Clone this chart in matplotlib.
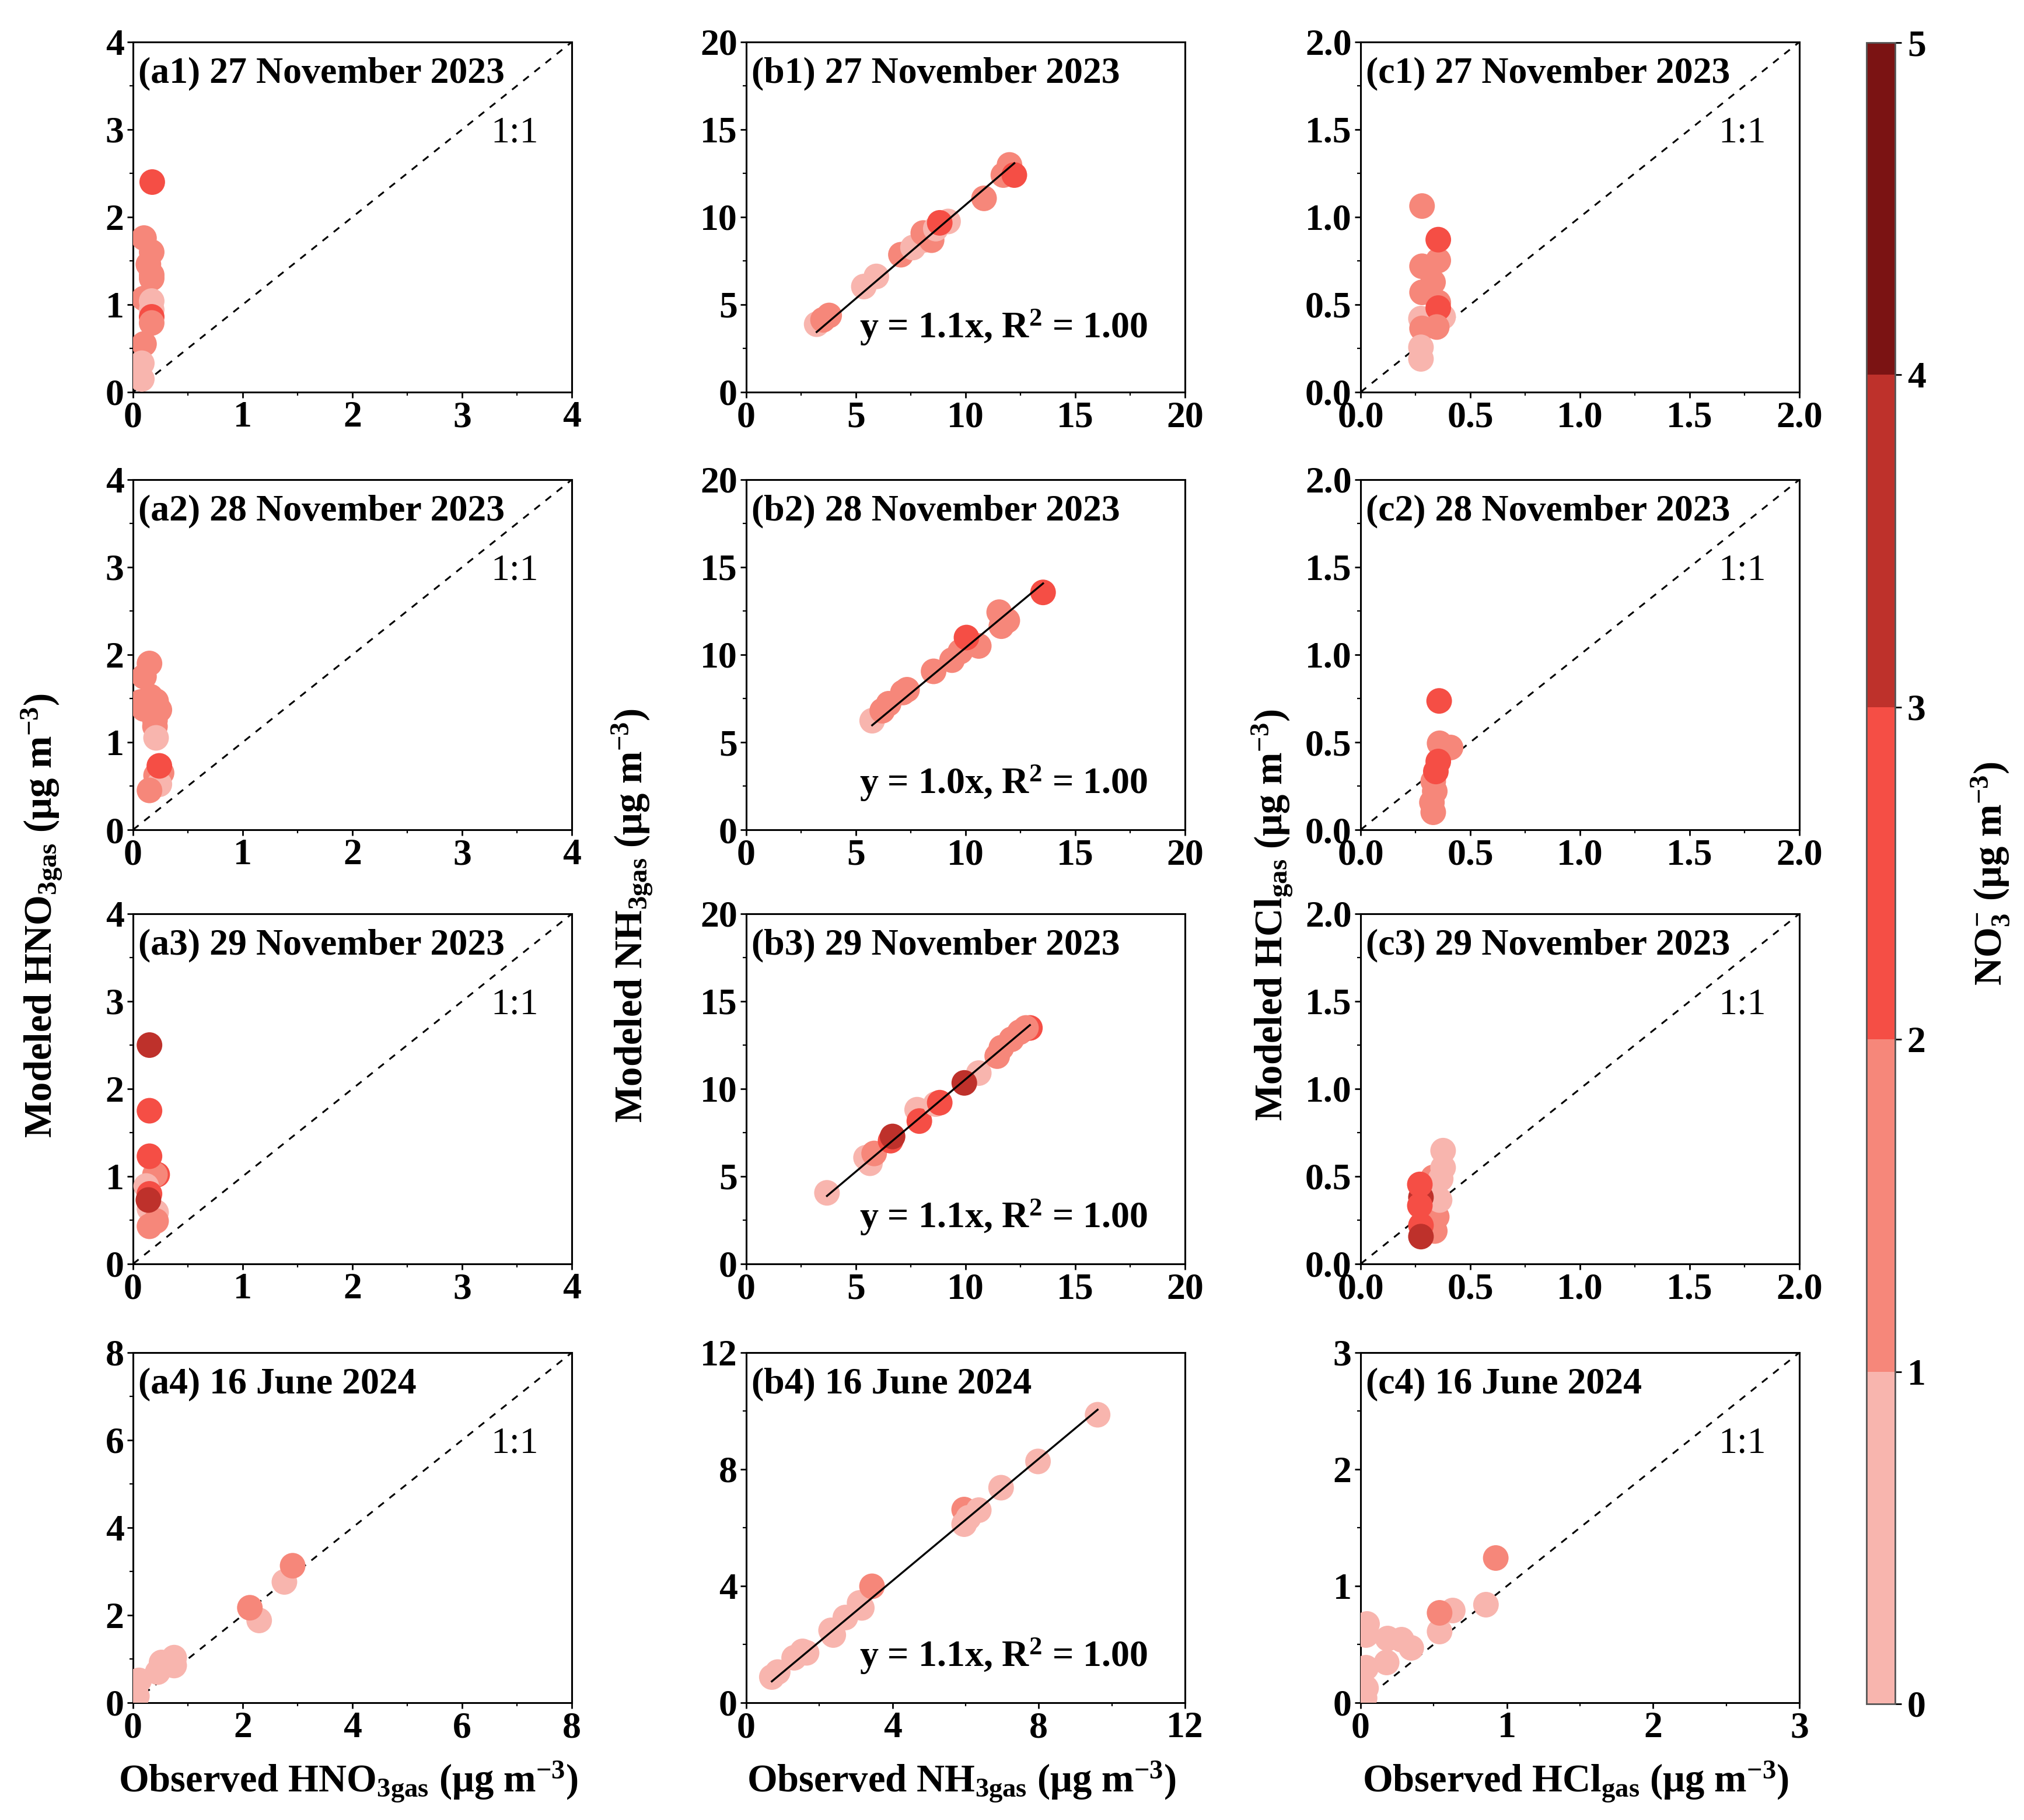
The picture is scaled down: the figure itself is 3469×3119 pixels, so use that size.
import numpy as np
import matplotlib
matplotlib.use("Agg")
import matplotlib.pyplot as plt
from matplotlib.colors import ListedColormap, BoundaryNorm
from matplotlib.ticker import MultipleLocator, FormatStrFormatter

plt.rcParams['font.family'] = ['Liberation Serif', 'DejaVu Serif']
plt.rcParams['font.weight'] = 'bold'
plt.rcParams['mathtext.fontset'] = 'custom'
plt.rcParams['mathtext.rm'] = 'Liberation Serif:bold'
plt.rcParams['mathtext.bf'] = 'Liberation Serif:bold'
plt.rcParams['mathtext.it'] = 'Liberation Serif:bold:italic'

# ---------------- data (observed, modeled, NO3-) ----------------
a1_obs = [0.10, 0.17, 0.14, 0.17, 0.17, 0.10, 0.17, 0.17, 0.17, 0.17, 0.10, 0.08, 0.08, 0.175]
a1_mod = [1.76, 1.60, 1.46, 1.34, 1.30, 1.07, 1.04, 0.94, 0.86, 0.79, 0.55, 0.33, 0.15, 2.40]
a1_no3 = [1.5, 1.5, 1.5, 1.5, 1.5, 1.5, 0.5, 0.5, 2.5, 1.5, 1.5, 0.5, 0.5, 2.5]

a2_obs = [0.15, 0.10, 0.16, 0.07, 0.21, 0.10, 0.24, 0.20, 0.20, 0.21, 0.26, 0.21, 0.24, 0.15, 0.24]
a2_mod = [1.90, 1.75, 1.52, 1.46, 1.47, 1.38, 1.37, 1.25, 1.18, 1.05, 0.65, 0.62, 0.52, 0.45, 0.73]
a2_no3 = [1.5, 1.5, 1.5, 1.5, 1.5, 1.5, 1.5, 1.5, 1.5, 0.5, 1.5, 1.5, 0.5, 1.5, 2.5]

a3_obs = [0.22, 0.20, 0.12, 0.15, 0.15, 0.21, 0.21, 0.15, 0.14, 0.15, 0.15, 0.15]
a3_mod = [1.02, 1.02, 0.89, 0.80, 0.63, 0.59, 0.49, 0.43, 0.73, 2.50, 1.75, 1.23]
a3_no3 = [2.5, 1.5, 0.5, 2.5, 0.5, 0.5, 1.5, 1.5, 3.5, 3.5, 2.5, 2.5]

a4_obs = [0.04, 0.07, 0.11, 0.45, 0.52, 0.75, 0.75, 2.30, 2.76, 2.13, 2.91]
a4_mod = [0.05, 0.15, 0.51, 0.70, 0.92, 0.85, 1.03, 1.88, 2.76, 2.17, 3.13]
a4_no3 = [0.5, 0.5, 0.5, 0.5, 0.5, 0.5, 0.5, 0.5, 0.5, 1.5, 1.5]

b1_obs = [3.21, 3.50, 3.78, 5.36, 5.93, 7.05, 7.60, 8.07, 8.07, 8.45, 8.64, 9.20, 8.82, 10.84, 11.72, 12.00, 12.22]
b1_mod = [3.88, 4.13, 4.38, 6.03, 6.61, 7.85, 8.26, 8.68, 9.09, 8.68, 9.34, 9.75, 9.67, 11.07, 12.40, 12.98, 12.40]
b1_no3 = [0.5, 1.5, 1.5, 0.5, 0.5, 1.5, 0.5, 0.5, 1.5, 1.5, 0.5, 0.5, 2.5, 1.5, 1.5, 1.5, 2.5]
b1_slope = 1.07

b2_obs = [5.74, 6.20, 6.49, 7.14, 7.33, 8.54, 9.38, 9.76, 10.60, 10.04, 11.53, 11.63, 11.90, 13.53]
b2_mod = [6.23, 6.80, 7.20, 7.84, 8.00, 9.05, 9.69, 10.18, 10.50, 10.98, 12.43, 11.63, 11.95, 13.56]
b2_no3 = [0.5, 1.5, 1.5, 1.5, 1.5, 1.5, 1.5, 1.5, 1.5, 2.5, 1.5, 1.5, 1.5, 2.5]
b2_slope = 1.04

b3_obs = [3.68, 5.64, 5.46, 5.83, 6.58, 6.67, 7.79, 7.89, 8.64, 8.82, 10.60, 9.94, 11.44, 11.63, 12.09, 12.47, 12.93, 12.75]
b3_mod = [4.06, 5.75, 6.07, 6.31, 7.04, 7.28, 8.81, 8.16, 9.13, 9.21, 10.90, 10.34, 11.87, 12.35, 12.83, 13.24, 13.48, 13.48]
b3_no3 = [0.5, 0.5, 0.5, 1.5, 2.5, 3.5, 0.5, 2.5, 0.5, 2.5, 0.5, 3.5, 1.5, 1.5, 1.5, 1.5, 2.5, 1.5]
b3_slope = 1.055

b4_obs = [0.70, 0.86, 1.31, 1.54, 1.65, 2.32, 2.38, 2.71, 3.10, 3.16, 3.44, 5.96, 5.96, 6.08, 6.36, 6.97, 7.98, 9.61]
b4_mod = [0.88, 1.05, 1.54, 1.76, 1.71, 2.48, 2.32, 2.92, 3.42, 3.25, 3.99, 6.62, 6.12, 6.34, 6.60, 7.37, 8.27, 9.87]
b4_no3 = [0.5, 0.5, 0.5, 0.5, 0.5, 0.5, 0.5, 0.5, 0.5, 0.5, 1.5, 1.5, 0.5, 0.5, 0.5, 0.5, 0.5, 0.5]
b4_slope = 1.045

c1_obs = [0.28, 0.354, 0.28, 0.33, 0.28, 0.354, 0.275, 0.376, 0.354, 0.28, 0.347, 0.275, 0.275, 0.354]
c1_mod = [1.063, 0.752, 0.719, 0.628, 0.570, 0.512, 0.42, 0.43, 0.48, 0.364, 0.372, 0.256, 0.19, 0.871]
c1_no3 = [1.5, 1.5, 1.5, 1.5, 1.5, 1.5, 0.5, 0.5, 2.5, 1.5, 1.5, 0.5, 0.5, 2.5]

c2_obs = [0.41, 0.388, 0.36, 0.331, 0.338, 0.325, 0.331, 0.354, 0.343, 0.358]
c2_mod = [0.47, 0.47, 0.494, 0.277, 0.22, 0.156, 0.10, 0.39, 0.333, 0.736]
c2_no3 = [1.5, 1.5, 1.5, 1.5, 1.5, 1.5, 1.5, 2.5, 2.5, 2.5]

c3_obs = [0.331, 0.347, 0.338, 0.376, 0.376, 0.365, 0.331, 0.36, 0.275, 0.27, 0.27, 0.275, 0.275]
c3_mod = [0.494, 0.269, 0.188, 0.647, 0.55, 0.486, 0.38, 0.365, 0.38, 0.454, 0.333, 0.22, 0.156]
c3_no3 = [1.5, 1.5, 1.5, 0.5, 0.5, 0.5, 0.5, 0.5, 3.5, 2.5, 2.5, 2.5, 3.5]

c4_obs = [0.027, 0.037, 0.037, 0.037, 0.044, 0.178, 0.185, 0.28, 0.346, 0.54, 0.63, 0.857, 0.54, 0.924]
c4_mod = [0.04, 0.125, 0.30, 0.58, 0.675, 0.345, 0.55, 0.54, 0.47, 0.61, 0.79, 0.84, 0.77, 1.24]
c4_no3 = [0.5, 0.5, 0.5, 0.5, 0.5, 0.5, 0.5, 0.5, 0.5, 0.5, 0.5, 0.5, 1.5, 1.5]

panel_titles = ["(a1) 27 November 2023", "(b1) 27 November 2023", "(c1) 27 November 2023",
                "(a2) 28 November 2023", "(b2) 28 November 2023", "(c2) 28 November 2023",
                "(a3) 29 November 2023", "(b3) 29 November 2023", "(c3) 29 November 2023",
                "(a4) 16 June 2024", "(b4) 16 June 2024", "(c4) 16 June 2024"]
fit_texts = ["y = 1.1x, R$^{2}$ = 1.00", "y = 1.0x, R$^{2}$ = 1.00",
             "y = 1.1x, R$^{2}$ = 1.00", "y = 1.1x, R$^{2}$ = 1.00"]
no3_bounds = [0, 1, 2, 3, 4, 5]
no3_colors = ['#F8B5AE', '#F6877A', '#F54E45', '#BE312B', '#7B1313']

# ---------------- figure ----------------
W, H = 3469, 3119
dpi = 200
fig = plt.figure(figsize=(W / dpi, H / dpi), dpi=dpi)
cmap = ListedColormap(no3_colors)
norm = BoundaryNorm(no3_bounds, cmap.N)

col_left = [228 / W, 1279 / W, 2332 / W]
ax_w = 752 / W
ax_h = 600 / H
row_bottom = [1 - 672 / H, 1 - 1422 / H, 1 - 2166 / H, 1 - 2918 / H]

data = [
    [(a1_obs, a1_mod, a1_no3), (b1_obs, b1_mod, b1_no3), (c1_obs, c1_mod, c1_no3)],
    [(a2_obs, a2_mod, a2_no3), (b2_obs, b2_mod, b2_no3), (c2_obs, c2_mod, c2_no3)],
    [(a3_obs, a3_mod, a3_no3), (b3_obs, b3_mod, b3_no3), (c3_obs, c3_mod, c3_no3)],
    [(a4_obs, a4_mod, a4_no3), (b4_obs, b4_mod, b4_no3), (c4_obs, c4_mod, c4_no3)],
]
slopes = [b1_slope, b2_slope, b3_slope, b4_slope]
limits = [[4, 20, 2], [4, 20, 2], [4, 20, 2], [8, 12, 3]]
majors = [[1, 5, 0.5], [1, 5, 0.5], [1, 5, 0.5], [2, 4, 1]]
fit_y = [0.185, 0.133, 0.133, 0.133]

FS = 23
sc = None
for r in range(4):
    for c in range(3):
        ax = fig.add_axes([col_left[c], row_bottom[r], ax_w, ax_h])
        obs, mod, no3 = data[r][c]
        lim = limits[r][c]
        maj = majors[r][c]
        sc = ax.scatter(obs, mod, c=no3, cmap=cmap, norm=norm, s=250,
                        edgecolors='none', zorder=3)
        if c == 1:
            xo = np.array(obs)
            xs = np.array([xo.min(), xo.max()])
            ax.plot(xs, slopes[r] * xs, color='black', lw=1.2, zorder=4)
            ax.text(0.915, fit_y[r], fit_texts[r], transform=ax.transAxes,
                    ha='right', va='center', fontsize=FS, fontweight='bold')
        else:
            ax.plot([0, lim], [0, lim], ls=(0, (4, 4)), color='black', lw=1.1, zorder=1)
            ax.text(0.87, 0.74, "1:1", transform=ax.transAxes, ha='center',
                    va='center', fontsize=FS, fontweight='normal')
        ax.set_xlim(0, lim)
        ax.set_ylim(0, lim)
        ax.xaxis.set_major_locator(MultipleLocator(maj))
        ax.yaxis.set_major_locator(MultipleLocator(maj))
        ax.xaxis.set_minor_locator(MultipleLocator(maj / 2))
        ax.yaxis.set_minor_locator(MultipleLocator(maj / 2))
        if maj < 1:
            ax.xaxis.set_major_formatter(FormatStrFormatter('%.1f'))
            ax.yaxis.set_major_formatter(FormatStrFormatter('%.1f'))
        else:
            ax.xaxis.set_major_formatter(FormatStrFormatter('%d'))
            ax.yaxis.set_major_formatter(FormatStrFormatter('%d'))
        ax.tick_params(which='major', direction='out', length=3.5, width=1,
                       labelsize=FS, pad=2)
        ax.tick_params(which='minor', direction='out', length=2, width=0.8)
        for lab in ax.get_xticklabels() + ax.get_yticklabels():
            lab.set_fontweight('bold')
        for sp in ax.spines.values():
            sp.set_linewidth(1.1)
        ax.text(0.012, 0.91, panel_titles[r * 3 + c], transform=ax.transAxes,
                ha='left', va='center', fontsize=FS, fontweight='bold')

# axis labels
ylabels = ["Modeled HNO$_{\\mathbf{3gas}}$ (μg m$^{\\mathbf{-3}}$)",
           "Modeled NH$_{\\mathbf{3gas}}$ (μg m$^{\\mathbf{-3}}$)",
           "Modeled HCl$_{\\mathbf{gas}}$ (μg m$^{\\mathbf{-3}}$)"]
xlabels = ["Observed HNO$_{\\mathbf{3gas}}$ (μg m$^{\\mathbf{-3}}$)",
           "Observed NH$_{\\mathbf{3gas}}$ (μg m$^{\\mathbf{-3}}$)",
           "Observed HCl$_{\\mathbf{gas}}$ (μg m$^{\\mathbf{-3}}$)"]
ylab_x = [72 / W, 1084 / W, 2181 / W]
for c in range(3):
    fig.text(ylab_x[c], 0.497, ylabels[c], rotation=90, ha='center', va='center',
             fontsize=24, fontweight='bold')
    fig.text(col_left[c] + ax_w / 2 - 0.002, 0.021, xlabels[c], ha='center',
             va='center', fontsize=24, fontweight='bold')

# colorbar
cax = fig.add_axes([3199 / W, 1 - 2920 / H, 49 / W, 2847 / H])
cb = fig.colorbar(sc, cax=cax, ticks=no3_bounds)
cb.outline.set_linewidth(1.0)
cb.outline.set_edgecolor('#555555')
cax.tick_params(labelsize=FS, length=4, width=1, direction='out')
for lab in cax.get_yticklabels():
    lab.set_fontweight('bold')
fig.text(3411 / W, 0.52, "NO$_{\\mathbf{3}}^{\\mathbf{-}}$ (μg m$^{\\mathbf{-3}}$)", rotation=90,
         ha='center', va='center', fontsize=24, fontweight='bold')

fig.savefig("out.png", dpi=dpi)
